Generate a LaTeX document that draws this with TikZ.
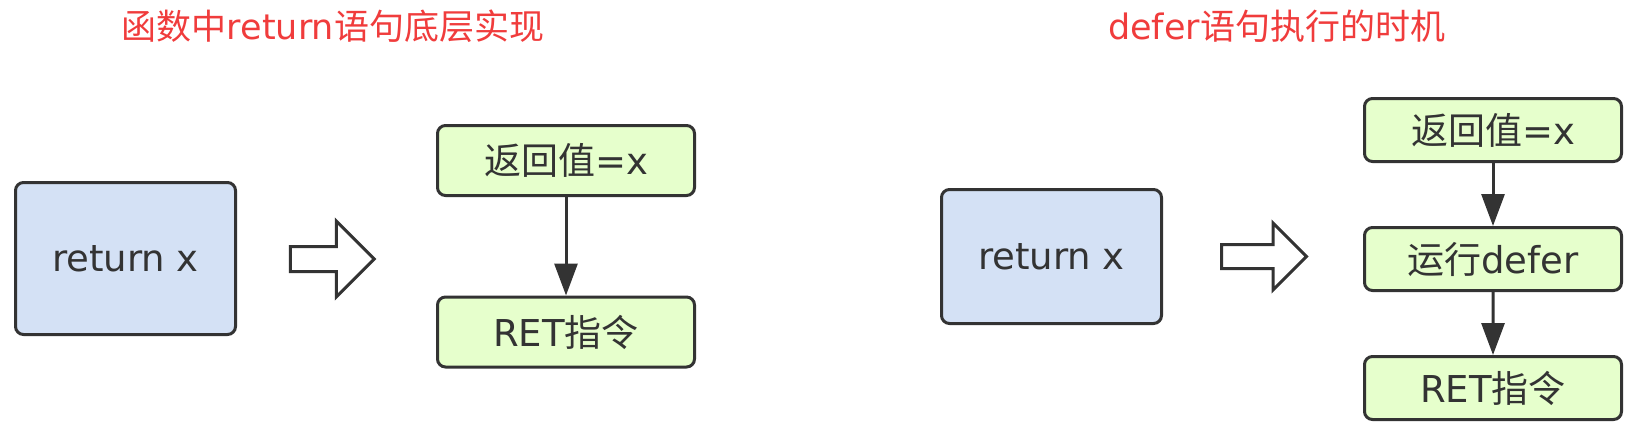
\documentclass[tikz,border=0pt]{standalone}
\usepackage{fontspec}
\setmainfont{DejaVu Sans}
\newfontfamily\cjk{Noto Sans CJK SC}
\usetikzlibrary{arrows.meta,shapes.arrows}
\definecolor{titlered}{HTML}{F03C3C}
\definecolor{boxline}{HTML}{333333}
\definecolor{bluefill}{HTML}{D4E1F5}
\definecolor{greenfill}{HTML}{E6FFCC}

\begin{document}
\begin{tikzpicture}[
    x=1pt, y=-1pt,
    box/.style={draw=boxline, line width=3pt, rounded corners=8pt,
        text=boxline, font=\fontsize{37}{37}\selectfont, inner sep=0pt},
    stmt/.style={box, fill=bluefill, minimum width=220pt},
    instr/.style={box, fill=greenfill, minimum width=257pt},
    fat/.style={single arrow, draw=boxline, line width=3pt, fill=white,
        inner xsep=0pt, single arrow tip angle=90},
    title/.style={text=titlered, font=\fontsize{35}{35}\selectfont},
    edge from parent/.style={draw=boxline, line width=3pt,
        -{Triangle[length=32pt,width=23pt]}}
    ]
    \useasboundingbox (0,0) rectangle (1636,442);

    % left: return
    \node[title] (ltitle) at (333,26) {{\cjk 函数中}return{\cjk 语句底层实现}};
    \node[stmt, minimum height=152pt] (lstmt) at (125.5,258.5) {return x};
    \node[fat, minimum height=84pt, inner ysep=11pt,
        single arrow head extend=25.5pt] (lgo) at (326,259) {};
    \node[instr, minimum height=70pt] (lval) at (566,160.5) {{\cjk 返回值}=x}
        [level distance=171.5pt]
        child { node[instr, minimum height=70pt] (lret) {RET{\cjk 指令}} };

    % right: defer
    \node[title] (rtitle) at (1276.5,26) {defer{\cjk 语句执行的时机}};
    \node[stmt, minimum height=134pt] (rstmt) at (1051.5,256.5) {return x};
    \node[fat, minimum height=85pt, inner ysep=10.5pt,
        single arrow head extend=21.5pt] (rgo) at (1258,256.5) {};
    \node[instr, minimum height=63pt] (rval) at (1493,130) {{\cjk 返回值}=x}
        [level distance=129pt]
        child { node[instr, minimum height=63pt] (rrun) {{\cjk 运行}defer}
            child { node[instr, minimum height=63pt] (rret) {RET{\cjk 指令}} }
        };
\end{tikzpicture}
\end{document}
